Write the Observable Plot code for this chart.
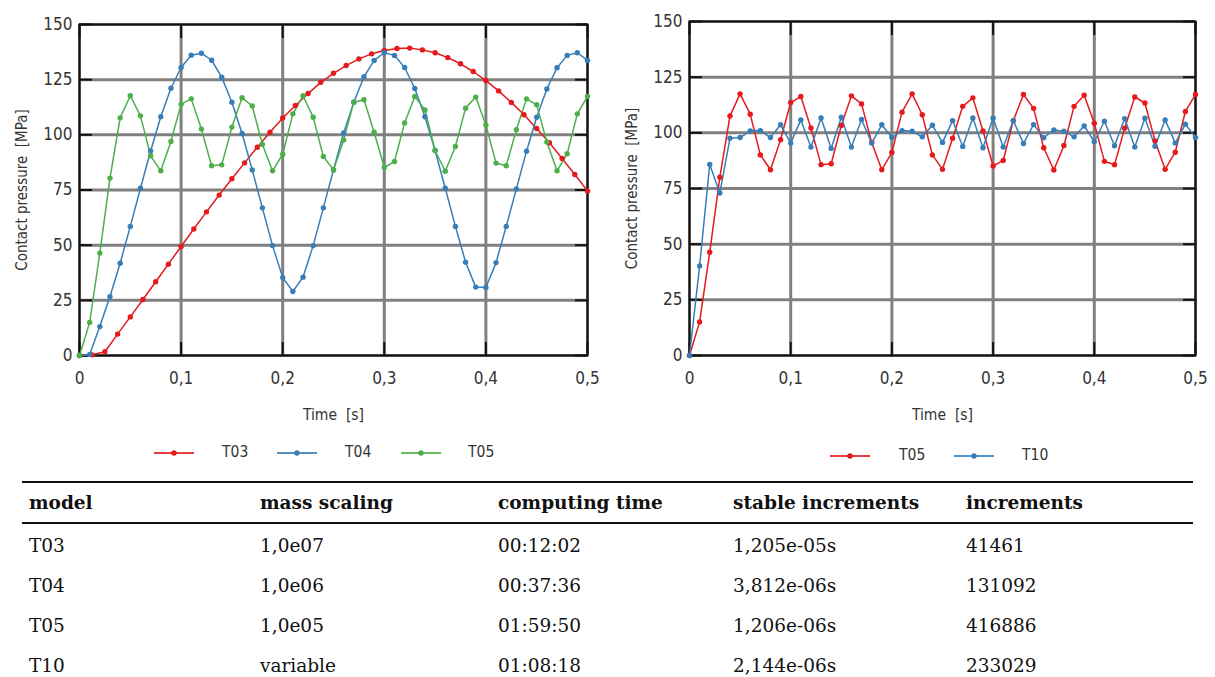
<!DOCTYPE html>
<html>
<head>
<meta charset="utf-8">
<script src="https://cdn.jsdelivr.net/npm/d3@7"></script>
<script src="https://cdn.jsdelivr.net/npm/@observablehq/plot@0.6"></script>
<style>
  html, body { margin: 0; padding: 0; background: #fff; }
  body { width: 1215px; height: 677px; position: relative; overflow: hidden; }
  .chart { position: absolute; top: 0; }
  .cfont { font-family: "Liberation Sans Narrow", "DejaVu Sans Condensed", "Roboto Condensed", sans-serif; }
  .legtext { position: absolute; font-size: 15.5px; color: #333; transform: translateY(-50%); line-height: 1; }
  table { position: absolute; left: 22px; top: 481px; width: 1171px; border-collapse: collapse;
          font-family: "DejaVu Serif", "Liberation Serif", serif; font-size: 18.5px; color: #111; table-layout: fixed; }
  th { font-weight: bold; text-align: left; height: 39px; padding: 0 0 0 7px; border-top: 2px solid #111; border-bottom: 2px solid #111; }
  td { text-align: left; height: 40px; padding: 0 0 0 7px; }
  tbody tr:first-child td { height: 40px; padding-top: 1px; }
</style>
</head>
<body>
<div id="left" class="chart" style="left:0px"></div>
<div id="right" class="chart" style="left:610px"></div>
<div id="legends"></div>
<table id="tbl"></table>
<script>
// ---------- data ----------
const timeA = [0,0.01,0.02,0.03,0.04,0.05,0.06,0.07,0.08,0.09,0.10,0.11,0.12,0.13,0.14,0.15,0.16,0.17,0.18,0.19,0.20,0.21,0.22,0.23,0.24,0.25,0.26,0.27,0.28,0.29,0.30,0.31,0.32,0.33,0.34,0.35,0.36,0.37,0.38,0.39,0.40,0.41,0.42,0.43,0.44,0.45,0.46,0.47,0.48,0.49,0.50];
const timeB = [0,0.0125,0.025,0.0375,0.05,0.0625,0.075,0.0875,0.1,0.1125,0.125,0.1375,0.15,0.1625,0.175,0.1875,0.2,0.2125,0.225,0.2375,0.25,0.2625,0.275,0.2875,0.3,0.3125,0.325,0.3375,0.35,0.3625,0.375,0.3875,0.4,0.4125,0.425,0.4375,0.45,0.4625,0.475,0.4875,0.5];

// left chart
const leftT03 = [0,0.3,1.7,9.7,17.5,25.4,33.4,41.4,49.4,57.3,65.1,72.7,80.1,87.3,94.4,101.2,107.6,113.3,118.7,123.8,127.9,131.4,134.4,136.7,138.2,139.1,139.3,138.5,137.2,135.0,132.2,128.7,124.6,119.9,114.7,109.1,102.9,96.4,89.3,82.0,74.6];
const leftT04 = [0,0.5,13.1,26.7,41.8,58.5,75.8,92.7,108.2,121.1,130.5,136.1,137.0,133.8,126.1,114.8,100.6,84.1,66.9,49.8,35.3,29.0,35.5,49.8,66.9,84.1,100.8,114.8,126.3,133.7,137.2,136.0,130.5,121.0,108.2,92.9,75.8,58.5,42.3,31.0,30.8,42.1,58.5,75.5,92.6,108.0,120.8,130.4,136.0,137.2,133.7];
const leftT05 = [0,15.0,46.4,80.4,107.7,117.7,108.6,90.5,83.7,97.0,113.9,116.3,102.6,86.0,86.4,103.5,116.8,113.1,95.6,83.7,91.2,109.5,117.7,108.0,90.2,84.1,97.7,114.8,115.9,101.2,85.2,87.9,105.4,117.4,111.3,92.9,83.5,94.7,112.1,117.1,104.5,87.2,86.0,102.3,116.3,113.6,96.7,83.7,91.4,109.5,117.4];

// right chart
const rightT05 = [0,15.1,46.4,80.1,107.6,117.5,108.4,90.1,83.4,96.9,113.6,116.3,102.2,85.7,86.1,103.3,116.6,113.0,95.7,83.4,91.2,109.3,117.5,108.1,90.1,83.6,97.6,111.9,115.7,100.9,85.1,87.6,105.5,117.2,111.0,93.3,83.3,94.3,111.9,116.9,104.3,87.2,85.7,102.1,116.1,113.4,96.4,83.6,91.3,109.6,117.2];
const rightT10 = [0,40.2,85.8,73.0,97.6,97.9,100.9,101.0,97.9,103.6,95.4,105.8,93.6,106.7,93.0,107.0,93.6,106.0,95.4,103.6,97.9,101.0,100.7,98.2,103.4,95.7,105.5,93.9,106.7,93.3,106.7,93.6,105.5,95.2,103.7,97.8,101.3,100.7,98.2,103.1,96.0,105.2,94.2,106.4,93.6,106.6,94.0,105.8,95.4,103.9,97.9];

const xTicks = [0, 0.1, 0.2, 0.3, 0.4, 0.5];
const yTicks = [0, 25, 50, 75, 100, 125, 150];
const xLabel = "Time\u00a0\u00a0[s]";
const yLabel = "Contact pressure\u00a0\u00a0[MPa]";

const leftSeries = ["T03", "T04", "T05"];
const leftColors = ["#e41a1c", "#377eb8", "#4daf4a"];
const rightSeries = ["T05", "T10"];
const rightColors = ["#e41a1c", "#377eb8"];

const tableHeader = ["model", "mass scaling", "computing time", "stable increments", "increments"];
const tableRows = [
  ["T03", "1,0e07", "00:12:02", "1,205e-05s", "41461"],
  ["T04", "1,0e06", "00:37:36", "3,812e-06s", "131092"],
  ["T05", "1,0e05", "01:59:50", "1,206e-06s", "416886"],
  ["T10", "variable", "01:08:18", "2,144e-06s", "233029"]
];

// ---------- build ----------
function rows(series, times, values) {
  return values.map((v, i) => ({series, t: times[i], p: v}));
}
const leftData = [
  ...rows("T03", timeB, leftT03),
  ...rows("T04", timeA, leftT04),
  ...rows("T05", timeA, leftT05)
];
const rightData = [
  ...rows("T05", timeA, rightT05),
  ...rows("T10", timeA, rightT10)
];

const fmtX = d => String(d).replace(".", ",");
const FONT = '"Liberation Sans Narrow", "DejaVu Sans Condensed", "Roboto Condensed", sans-serif';

function chart(data, domain, range, opts) {
  return Plot.plot({
    width: opts.width,
    height: 430,
    marginLeft: 79,
    marginRight: opts.marginRight,
    marginTop: opts.marginTop,
    marginBottom: 75,
    style: {fontFamily: FONT, fontSize: "17px", color: "#333", background: "transparent", overflow: "visible"},
    x: {domain: [0, 0.5], axis: null},
    y: {domain: [0, 150], axis: null},
    color: {domain, range},
    marks: [
      Plot.gridX(xTicks, {stroke: "#808080", strokeWidth: 3, strokeOpacity: 1}),
      Plot.gridY(yTicks, {stroke: "#808080", strokeWidth: 3, strokeOpacity: 1}),
      Plot.axisX(xTicks, {anchor: "bottom", tickSize: -13, tickPadding: 29, tickFormat: fmtX, stroke: "#111", strokeWidth: 2, label: null, fontSize: 17, fill: "#333"}),
      Plot.axisX(xTicks, {anchor: "top", tickSize: -13, tickFormat: () => "", stroke: "#111", strokeWidth: 2, label: null}),
      Plot.axisY(yTicks, {anchor: "left", tickSize: -13, tickPadding: 20, textAnchor: "end", stroke: "#111", strokeWidth: 2, label: null, fontSize: 17, fill: "#333"}),
      Plot.axisY(yTicks, {anchor: "right", tickSize: -13, tickFormat: () => "", stroke: "#111", strokeWidth: 2, label: null}),
      Plot.frame({stroke: "#111", strokeWidth: 2}),
      Plot.line(data, {x: "t", y: "p", z: "series", stroke: "series", strokeWidth: 1.5}),
      Plot.dot(data, {x: "t", y: "p", fill: "series", r: 2.7}),
      Plot.text([yLabel], {frameAnchor: "left", dx: -57, rotate: -90, textAnchor: "middle", lineAnchor: "middle", fontSize: 15, fill: "#333"}),
      Plot.text([xLabel], {frameAnchor: "bottom", dy: 60, textAnchor: "middle", lineAnchor: "middle", fontSize: 15.5, fill: "#333"})
    ]
  });
}

document.getElementById("left").append(chart(leftData, leftSeries, leftColors, {width: 600, marginRight: 13, marginTop: 24}));
document.getElementById("right").append(chart(rightData, rightSeries, rightColors, {width: 605, marginRight: 20, marginTop: 21}));

// ---------- legends ----------
const legendWrap = document.getElementById("legends");
function legendItem(name, color, lineX, textX, cy) {
  const sw = document.createElementNS("http://www.w3.org/2000/svg", "svg");
  sw.setAttribute("width", 40); sw.setAttribute("height", 10);
  sw.style.position = "absolute"; sw.style.left = lineX + "px"; sw.style.top = (cy - 5) + "px";
  sw.innerHTML = `<line x1="0" y1="5" x2="40" y2="5" stroke="${color}" stroke-width="2" stroke-opacity="0.85"/><circle cx="20" cy="5" r="2.7" fill="${color}"/>`;
  legendWrap.append(sw);
  const tx = document.createElement("div");
  tx.className = "legtext cfont";
  tx.style.left = textX + "px"; tx.style.top = cy + "px";
  tx.textContent = name;
  legendWrap.append(tx);
}
const leftLegendLineX = [154, 277, 401];
const leftLegendTextX = [222, 345, 468];
leftSeries.forEach((s, i) => legendItem(s, leftColors[i], leftLegendLineX[i], leftLegendTextX[i], 453));
const rightLegendLineX = [830, 954];
const rightLegendTextX = [899, 1022];
rightSeries.forEach((s, i) => legendItem(s, rightColors[i], rightLegendLineX[i], rightLegendTextX[i], 456));

// ---------- table ----------
const tbl = document.getElementById("tbl");
const colWidths = [231, 238, 235, 233, 234];
const cg = document.createElement("colgroup");
colWidths.forEach(w => { const c = document.createElement("col"); c.style.width = w + "px"; cg.append(c); });
tbl.append(cg);
const thead = document.createElement("thead");
const hr = document.createElement("tr");
tableHeader.forEach(h => { const th = document.createElement("th"); th.textContent = h; hr.append(th); });
thead.append(hr); tbl.append(thead);
const tbody = document.createElement("tbody");
tableRows.forEach(r => {
  const tr = document.createElement("tr");
  r.forEach(v => { const td = document.createElement("td"); td.textContent = v; tr.append(td); });
  tbody.append(tr);
});
tbl.append(tbody);
</script>
</body>
</html>
